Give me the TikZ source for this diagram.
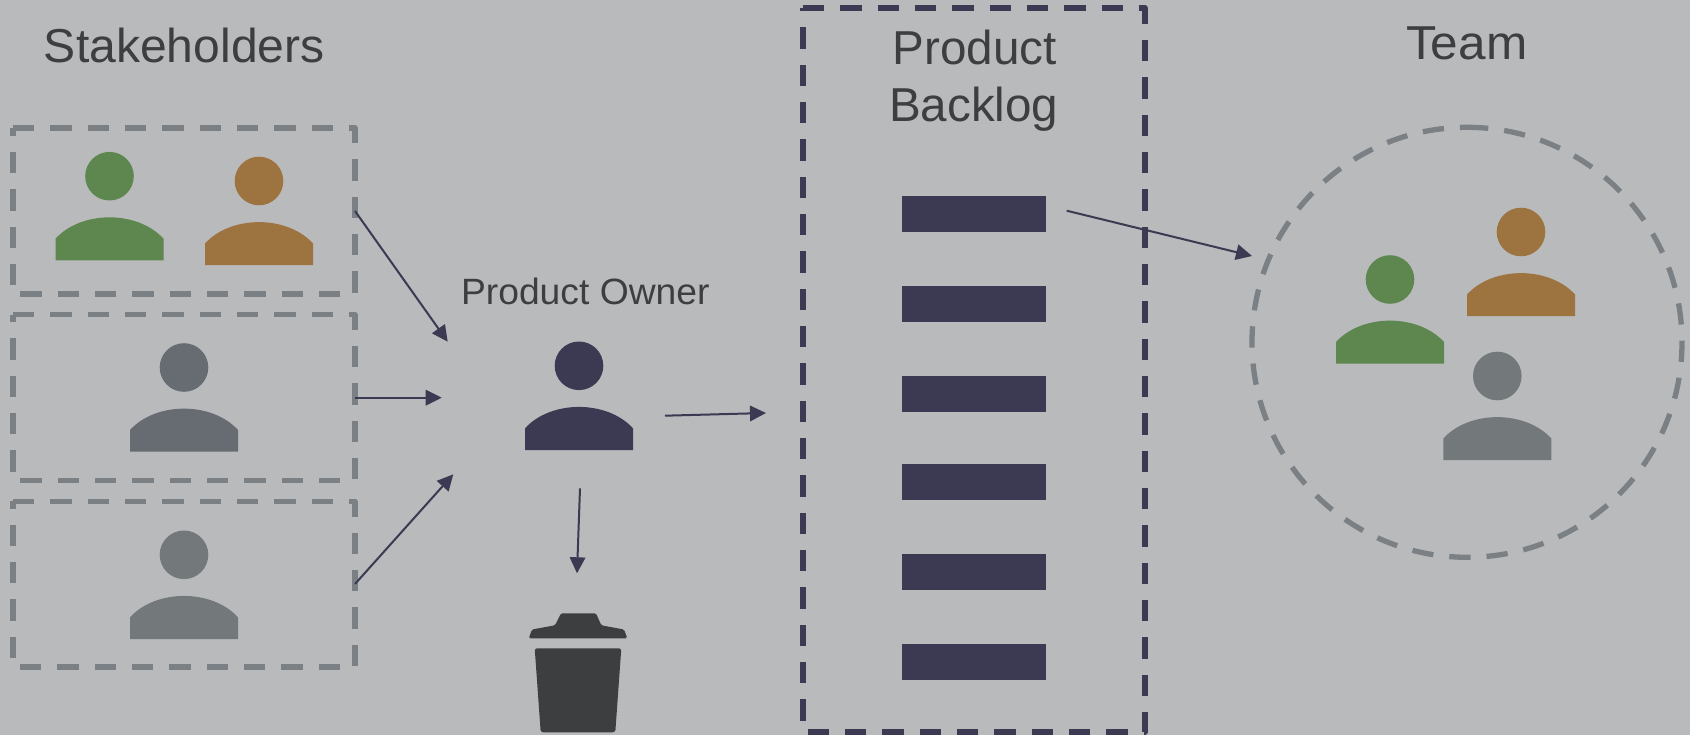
\documentclass[tikz,border=0pt]{standalone}
\usepackage{fontspec}
\setmainfont{Liberation Sans}
\newfontfamily\stakefont[FakeStretch=1.01]{Liberation Sans}
\newfontfamily\teamfont[FakeStretch=1.04]{Liberation Sans}
\newfontfamily\ownerfont[FakeStretch=1.018]{Liberation Sans}
\usetikzlibrary{arrows.meta}
\definecolor{bgc}{HTML}{B9BABC}
\definecolor{navy}{HTML}{3B3A52}
\definecolor{dashgray}{HTML}{7B8085}
\definecolor{txt}{HTML}{3D3E40}
\definecolor{pgreen}{HTML}{5D874F}
\definecolor{porange}{HTML}{9D733F}
\definecolor{pslate}{HTML}{676B72}
\definecolor{pgray}{HTML}{73787A}
\tikzset{
  dashbox/.style={draw=dashgray,line width=5.3pt,dash pattern=on 21.33pt off 16pt,line join=round},
  navybox/.style={dashbox,draw=navy,line width=6pt},
  flow/.style={draw=navy,line width=2pt,-{Triangle[length=16pt,width=15.5pt]}},
  head/.style={circle,inner sep=0pt,minimum size=48.6pt},
  bar/.style={rectangle,inner sep=0pt,minimum width=144pt,minimum height=36pt,fill=navy},
  bigtext/.style={text=txt,anchor=base,inner sep=0pt,font=\fontsize{47.6}{56}\selectfont},
  smalltext/.style={text=txt,anchor=base,inner sep=0pt,font=\fontsize{36.6}{44}\selectfont},
}
\newcommand{\personfig}[4]{%
  \node[head,fill=#4] (#1) at (#2,#3) {};
  \fill[#4,shift={(#2,#3)}] (-54,84.2) -- (-54,62.5) .. controls (-28,34) and (28,34) .. (54,62.5) -- (54,84.2) -- cycle;
}
\begin{document}
\begin{tikzpicture}[x=1pt,y=-1pt]
\useasboundingbox (0,0) rectangle (1690,735);
\fill[bgc] (0,0) rectangle (1690,735);

% labels
\node[bigtext] (stake) at (184.3,62.3) {\stakefont Stakeholders};
\node[bigtext] (team) at (1466.7,60) {\teamfont Team};
\node[bigtext] (pb1) at (974.7,65) {Product};
\node[bigtext] (pb2) at (973.8,121.7) {Backlog};
\node[smalltext] (po) at (585.3,304.3) {\ownerfont Product Owner};

% stakeholder boxes
\draw[dashbox] (13,128) -- (355,128) -- (355,294) -- (13,294) -- cycle;
\draw[dashbox] (13,314.7) -- (355,314.7) -- (355,480.5) -- (13,480.5) -- cycle;
\draw[dashbox] (13,501.3) -- (355,501.3) -- (355,667) -- (13,667) -- cycle;

% people
\personfig{sgreen}{109.5}{176.2}{pgreen}
\personfig{sorange}{259}{181}{porange}
\personfig{sslate}{184}{367.5}{pslate}
\personfig{sgray}{184}{554.8}{pgray}
\personfig{owner}{579}{365.8}{navy}
\personfig{tgreen}{1390}{279.5}{pgreen}
\personfig{torange}{1521}{232}{porange}
\personfig{tgray}{1497.3}{376}{pgray}

% backlog
\draw[navybox] (803,8.3) -- (1144.7,8.3) -- (1144.7,732) -- (803,732) -- cycle;
\node[bar] (b1) at (974,213.7) {};
\node[bar] (b2) at (974,303.8) {};
\node[bar] (b3) at (974,394) {};
\node[bar] (b4) at (974,481.8) {};
\node[bar] (b5) at (974,572) {};
\node[bar] (b6) at (974,662) {};

% team circle
\draw[dashbox] (1467,127.3)
  .. controls (1585.7,127.3) and (1682,223.6) .. (1682,342.3)
  .. controls (1682,461) and (1585.7,557.3) .. (1467,557.3)
  .. controls (1348.3,557.3) and (1252,461) .. (1252,342.3)
  .. controls (1252,223.6) and (1348.3,127.3) .. (1467,127.3) -- cycle;

% trash can
\fill[txt,rounded corners=1.5pt] (528.7,638.3) -- (532,629.5) -- (555,625.3) -- (561,613.3) -- (596,613.3) -- (601.3,625.3) -- (624,629.5) -- (627.3,638.3) -- cycle;
\fill[txt,rounded corners=2.5pt] (534.7,648.3) -- (621.3,648.3) -- (615.3,732.3) -- (540.7,732.3) -- cycle;

% connectors
\coordinate (a1s) at (355,211);
\coordinate (a1t) at (447.7,341.7);
\coordinate (a2s) at (355,397.7);
\coordinate (a2t) at (441.7,397.7);
\coordinate (a3s) at (355,584);
\coordinate (a3t) at (453.3,474.3);
\coordinate (a4s) at (665,415.7);
\coordinate (a4t) at (766,413);
\coordinate (a5s) at (580,488.3);
\coordinate (a5t) at (577,573.3);
\coordinate (a6s) at (1066.7,210.7);
\coordinate (a6t) at (1252,256);
\draw[flow] (a1s) -- (a1t);
\draw[flow] (a2s) -- (a2t);
\draw[flow] (a3s) -- (a3t);
\draw[flow] (a4s) -- (a4t);
\draw[flow] (a5s) -- (a5t);
\draw[flow] (a6s) -- (a6t);
\end{tikzpicture}
\end{document}
